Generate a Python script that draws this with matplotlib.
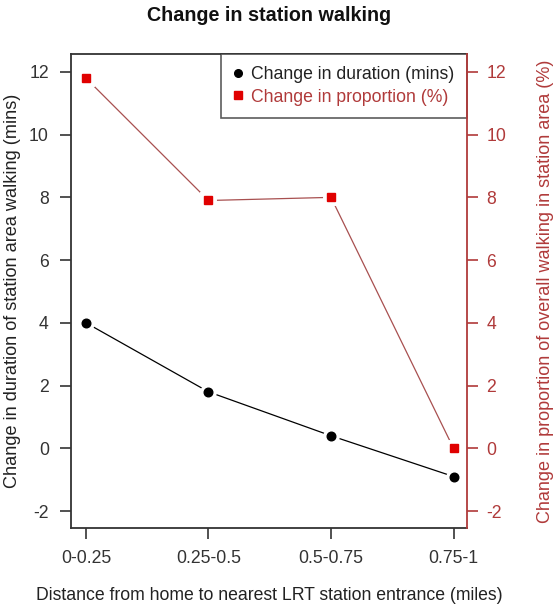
import matplotlib.pyplot as plt
import numpy as np

plt.rcParams['font.family'] = ['Liberation Sans', 'DejaVu Sans']

# distance bands from home to nearest LRT station entrance
categories = ['0-0.25', '0.25-0.5', '0.5-0.75', '0.75-1']
duration = [4.0, 1.8, 0.4, -0.9]      # change in duration (mins)
proportion = [11.8, 7.9, 8.0, 0.0]    # change in proportion (%)
yticks = [-2, 0, 2, 4, 6, 8, 10, 12]

RED = '#e00000'
RED_LINE = '#a85050'
AXIS_RED = '#b03a3a'
GREY = '#333333'
FS = 12.7

x = np.arange(1, len(categories) + 1)

fig = plt.figure(figsize=(5.57, 6.13), dpi=100)
ax = fig.add_axes([0.1275, 0.1387, 0.7109, 0.7732])
ax2 = ax.twinx()

# R type="b": lines broken around the points, faked with a white halo
ax.plot(x, duration, color='black', lw=0.9, zorder=2)
ax.plot(x, duration, 'o', ms=7, color='white', mec='white', mew=5, zorder=3)
ax.plot(x, duration, 'o', ms=6.2, color='black', zorder=4)

ax2.plot(x, proportion, color=RED_LINE, lw=0.9, zorder=2)
ax2.plot(x, proportion, 's', ms=7, color='white', mec='white', mew=5, zorder=3)
ax2.plot(x, proportion, 's', ms=6.2, color=RED, zorder=4)

for a in (ax, ax2):
    a.set_ylim(-2.54, 12.57)
    a.set_xlim(0.878, 4.11)
    a.set_yticks(yticks)
    a.set_yticklabels([str(t) for t in yticks])

ax.set_xticks(x)
ax.set_xticklabels(categories)
ax.tick_params(axis='both', labelsize=FS, colors=GREY, length=8, width=1.2, pad=8)
ax.tick_params(axis='x', pad=8)
ax2.tick_params(axis='y', labelsize=FS, colors=AXIS_RED, length=8, width=1.2, pad=6)
ax2.tick_params(axis='y', labelcolor=AXIS_RED)

for s in ('left', 'top', 'bottom'):
    ax.spines[s].set_color(GREY)
    ax.spines[s].set_linewidth(1.3)
ax.spines['right'].set_visible(False)
for s in ('left', 'top', 'bottom'):
    ax2.spines[s].set_visible(False)
ax2.spines['right'].set_color(AXIS_RED)
ax2.spines['right'].set_linewidth(1.3)

ax.set_xlabel('Distance from home to nearest LRT station entrance (miles)',
              fontsize=FS, color='#222222', labelpad=14)
ax.set_ylabel('Change in duration of station area walking (mins)',
              fontsize=13.1, color='#222222', labelpad=6)
ax2.set_ylabel('Change in proportion of overall walking in station area (%)',
               fontsize=13, color=AXIS_RED, labelpad=22)

fig.text(0.483, 0.975, 'Change in station walking', ha='center', va='center',
         fontsize=14.2, fontweight='bold', color='#111111')

# legend box in the top right corner
h1 = ax.plot([], [], 'o', ms=5.5, color='black', label='Change in duration (mins)')[0]
h2 = ax.plot([], [], 's', ms=5.5, color=RED, label='Change in proportion (%)')[0]
leg = ax.legend(handles=[h1, h2], loc='upper right', fontsize=FS,
                frameon=True, fancybox=False, borderaxespad=0,
                handlelength=0.6, handletextpad=0.45, borderpad=0.7,
                labelspacing=0.3)
leg.get_frame().set_edgecolor(GREY)
leg.get_frame().set_linewidth(1.2)
leg.get_texts()[0].set_color('#222222')
leg.get_texts()[1].set_color(AXIS_RED)
leg.set_zorder(10)

fig.savefig('out.png', dpi=100, facecolor='white')
